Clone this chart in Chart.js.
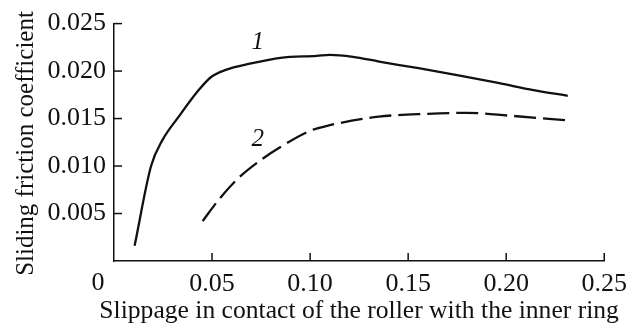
<!DOCTYPE html>
<html>
<head>
<meta charset="utf-8">
<script src="https://cdn.jsdelivr.net/npm/chart.js@4.4.0/dist/chart.umd.min.js"></script>
<style>
  html, body { margin: 0; padding: 0; background: #fff; }
  #wrap { width: 635px; height: 329px; }
</style>
</head>
<body>
<div id="wrap"><canvas id="frictionChart"></canvas></div>
<script>
// curve 1 (solid)
const slip1 = [0.0105, 0.0189, 0.0246, 0.033, 0.0432, 0.0497, 0.0566, 0.0698, 0.0849, 0.1034, 0.110, 0.1218, 0.1352, 0.1553, 0.177, 0.197, 0.2139, 0.2314];
const fric1 = [0.0016, 0.0100, 0.0127, 0.0152, 0.0180, 0.0194, 0.0201, 0.0208, 0.0214, 0.0216, 0.0217, 0.0215, 0.0210, 0.0203, 0.0195, 0.0187, 0.0180, 0.0174];
// curve 2 (dashed)
const slip2 = [0.0452, 0.0532, 0.0633, 0.0733, 0.0849, 0.0999, 0.110, 0.135, 0.160, 0.180, 0.202, 0.2314];
const fric2 = [0.0042, 0.0064, 0.0087, 0.0104, 0.0120, 0.0137, 0.0143, 0.0152, 0.0155, 0.0156, 0.0153, 0.0148];

const xTicks = [0, 0.05, 0.10, 0.15, 0.20, 0.25];
const yTicks = [0, 0.005, 0.010, 0.015, 0.020, 0.025];

const xTitle = 'Slippage in contact of the roller with the inner ring';
const yTitle = 'Sliding friction coefficient';

const curveLabels = ['1', '2'];
const curveLabelX = [0.0733, 0.0733];
const curveLabelY = [0.0230, 0.0128];

const ink = '#111';
const serif = '"Liberation Serif", "DejaVu Serif", serif';

const toPoints = (xs, ys) => xs.map((x, i) => ({ x: x, y: ys[i] }));

// inner tick marks, the shifted "0", axis titles (no maxWidth squeeze) and curve numbers
const decorations = {
    id: 'decorations',
    afterDraw(chart) {
        const ctx = chart.ctx;
        const xs = chart.scales.x, ys = chart.scales.y;
        const area = chart.chartArea;
        ctx.save();
        ctx.strokeStyle = ink;
        ctx.lineWidth = 1.5;
        xTicks.forEach(v => {
            if (v === 0) return;
            const px = xs.getPixelForValue(v);
            ctx.beginPath();
            ctx.moveTo(px, area.bottom);
            ctx.lineTo(px, area.bottom - 8);
            ctx.stroke();
        });
        yTicks.forEach(v => {
            if (v === 0) return;
            const py = ys.getPixelForValue(v);
            ctx.beginPath();
            ctx.moveTo(area.left, py);
            ctx.lineTo(area.left + 8, py);
            ctx.stroke();
        });
        ctx.fillStyle = ink;
        ctx.font = '26px ' + serif;
        ctx.textAlign = 'center';
        ctx.textBaseline = 'top';
        ctx.fillText('0', xs.getPixelForValue(0) - 16, area.bottom + 9);

        ctx.textBaseline = 'alphabetic';
        ctx.font = '25.6px ' + serif;
        ctx.fillText(xTitle, (area.left + area.right) / 2, 318);

        ctx.save();
        ctx.translate(33, 143.5);
        ctx.rotate(-Math.PI / 2);
        ctx.font = '25px ' + serif;
        ctx.fillText(yTitle, 0, 0);
        ctx.restore();

        ctx.font = 'italic 25px ' + serif;
        ctx.textBaseline = 'middle';
        curveLabels.forEach((t, i) => {
            ctx.fillText(t, xs.getPixelForValue(curveLabelX[i]), ys.getPixelForValue(curveLabelY[i]));
        });
        ctx.restore();
    }
};

new Chart(document.getElementById('frictionChart'), {
    type: 'line',
    data: {
        datasets: [
            {
                data: toPoints(slip1, fric1),
                borderColor: ink,
                borderWidth: 2.3,
                pointRadius: 0,
                cubicInterpolationMode: 'monotone',
                fill: false,
            },
            {
                data: toPoints(slip2, fric2),
                borderColor: ink,
                borderWidth: 2.3,
                borderDash: [22, 7],
                pointRadius: 0,
                cubicInterpolationMode: 'monotone',
                fill: false,
            },
        ],
    },
    options: {
        responsive: true,
        maintainAspectRatio: false,
        animation: false,
        layout: { padding: { top: 23, right: 23, left: 0, bottom: 0 } },
        plugins: {
            legend: { display: false },
            tooltip: { enabled: false },
        },
        scales: {
            x: {
                type: 'linear',
                min: 0,
                max: 0.25,
                afterBuildTicks: (scale) => { scale.ticks = xTicks.map(v => ({ value: v })); },
                afterFit: (scale) => { scale.height = 68; },
                grid: { display: false, drawTicks: false },
                border: { display: true, color: ink, width: 1.5 },
                ticks: {
                    color: ink,
                    padding: 8,
                    maxRotation: 0,
                    font: { family: serif, size: 26 },
                    callback: (v) => v === 0 ? '' : v.toFixed(2),
                },
                title: { display: false },
            },
            y: {
                min: 0,
                max: 0.025,
                afterBuildTicks: (scale) => { scale.ticks = yTicks.map(v => ({ value: v })); },
                afterFit: (scale) => { scale.width = 114; },
                grid: { display: false, drawTicks: false },
                border: { display: true, color: ink, width: 1.5 },
                ticks: {
                    color: ink,
                    padding: 8,
                    font: { family: serif, size: 26 },
                    callback: (v) => v === 0 ? '' : v.toFixed(3),
                },
                title: { display: false },
            },
        },
    },
    plugins: [decorations],
});
</script>
</body>
</html>
